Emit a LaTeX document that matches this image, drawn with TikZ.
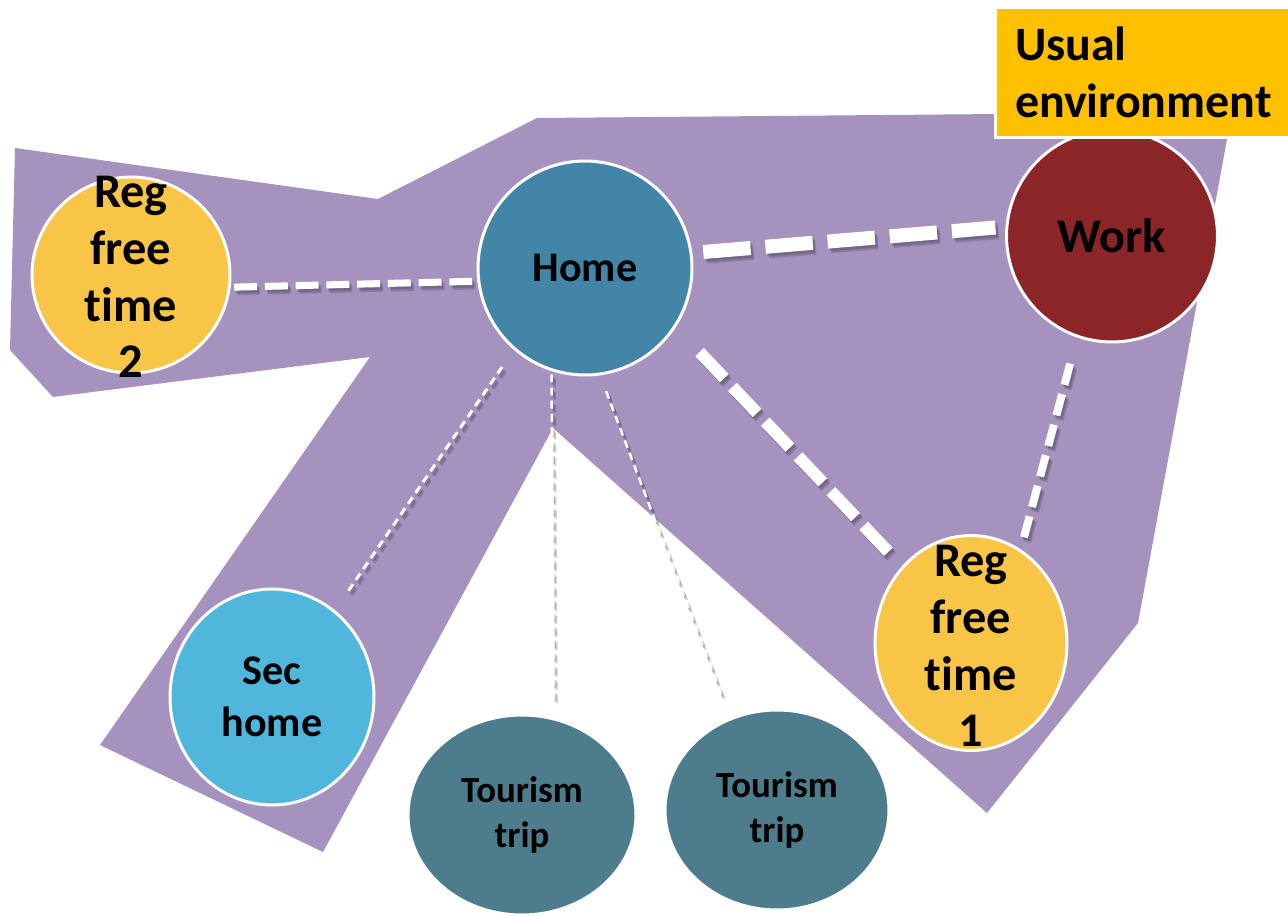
\documentclass[tikz,border=0pt]{standalone}
\usepackage{fontspec}
\setmainfont{Carlito}[Ligatures=NoCommon]
\usetikzlibrary{shapes.geometric}
\definecolor{purp}{HTML}{A592BF}
\definecolor{regy}{HTML}{F8C546}
\definecolor{homeb}{HTML}{4285A7}
\definecolor{workr}{HTML}{8B2528}
\definecolor{secb}{HTML}{50B6DC}
\definecolor{tourb}{HTML}{4D7D8C}
\definecolor{usualy}{HTML}{FFC000}
\tikzset{
  place/.style={ellipse, draw=white, line width=1.7pt, inner sep=0pt},
  txt/.style={align=center, font=\bfseries, inner sep=0pt},
  shad/.style={draw=black, draw opacity=0.16, line cap=butt},
  wht/.style={draw=white, line cap=butt},
  lA/.style={line width=4pt, dash pattern=on 13pt off 4.5pt, shorten <=2pt},
  lB/.style={line width=8pt, dash pattern=on 27pt off 8.5pt, shorten <=6.2pt, shorten >=5.7pt},
  lC/.style={line width=6.8pt, dash pattern=on 20.4pt off 6.8pt, shorten <=19.6pt, shorten >=6.2pt},
  lD/.style={line width=4.5pt, dash pattern=on 12.5pt off 5.5pt, shorten <=15.3pt, shorten >=7.1pt},
  lE/.style={line width=1.7pt, dash pattern=on 4.5pt off 3pt, shorten <=11.8pt, shorten >=13pt},
  lF/.style={line width=1.4pt, dash pattern=on 4.5pt off 3pt, shorten <=1.8pt, shorten >=10.6pt},
  lG/.style={line width=1.4pt, dash pattern=on 4.5pt off 3pt, shorten <=9.6pt, shorten >=11.8pt},
}
\newcommand\drawconns[1]{%
  \draw[#1,lA] (reg2.-7) -- (home.187);
  \draw[#1,lB] (home.8) -- (work.175);
  \draw[#1,lC] (home.-33.4) -- (reg1.132.4);
  \draw[#1,lD] (work.-109.5) -- (reg1.62.8);
  \draw[#1,lE] (home.-131.8) -- (sechome.54.2);
  \draw[#1,lF] (home.-108) -- (tour1.72);
  \draw[#1,lG] (home.-82.5) -- (tour2.117.8);
}
\begin{document}
\begin{tikzpicture}[x=0.02cm,y=-0.02cm]
\useasboundingbox (0,0) rectangle (1288,916);
% usual environment region
\fill[purp] (15,148) -- (378,199) -- (537,118) -- (1232,112) -- (1138,623)
  -- (987,813) -- (553,428) -- (323,852) -- (100,745) -- (370,357)
  -- (53,397) -- (10,350) -- cycle;
% places
\node[place, fill=regy, minimum width=3.96cm, minimum height=3.92cm] (reg2) at (131,275) {};
\node[place, fill=homeb, minimum width=4.28cm, minimum height=4.28cm] (home) at (585,268) {};
\node[place, fill=workr, minimum width=4.22cm, minimum height=4.24cm] (work) at (1112,236) {};
\node[place, fill=regy, minimum width=3.84cm, minimum height=4.3cm] (reg1) at (971,643) {};
\node[place, fill=secb, minimum width=4.08cm, minimum height=4.32cm] (sechome) at (272,697) {};
\node[place, fill=tourb, minimum width=4.56cm, minimum height=4.0cm] (tour1) at (522,815) {};
\node[place, fill=tourb, minimum width=4.48cm, minimum height=4.0cm] (tour2) at (777,810) {};
% connectors (soft drop shadow, then white dashes)
\begin{scope}[transform canvas={xshift=1.8pt,yshift=-2.6pt}]
  \drawconns{shad}
\end{scope}
\begin{scope}[transform canvas={xshift=1.1pt,yshift=-1.5pt}]
  \drawconns{shad}
\end{scope}
\drawconns{wht}
% labels
\node[txt, font=\bfseries\fontsize{27.5}{32.3}\selectfont] (reg2t) at (131,277) {Reg\\free\\time\\2};
\node[txt, font=\bfseries\fontsize{24}{29}\selectfont] (homet) at (home) {Home};
\node[txt, font=\bfseries\fontsize{27.5}{32}\selectfont] (workt) at (work) {Work};
\node[txt, font=\bfseries\fontsize{27.5}{32.3}\selectfont] (reg1t) at (971,646) {Reg\\free\\time\\1};
\node[txt, font=\bfseries\fontsize{24}{29.5}\selectfont] (secht) at (sechome) {Sec\\home};
\node[txt, font=\bfseries\fontsize{21}{26}\selectfont] (tour1t) at (tour1) {Tourism\\trip};
\node[txt, font=\bfseries\fontsize{21}{26}\selectfont] (tour2t) at (tour2) {Tourism\\trip};
% legend box
\node[draw=white, line width=1.7pt, fill=usualy, minimum width=5.82cm, minimum height=2.62cm,
  text width=5.1cm, inner xsep=0.4cm, align=left,
  font=\bfseries\fontsize{27.3}{32.3}\selectfont] (usual) at (1142.5,72.5) {Usual\\environment};
\end{tikzpicture}
\end{document}
